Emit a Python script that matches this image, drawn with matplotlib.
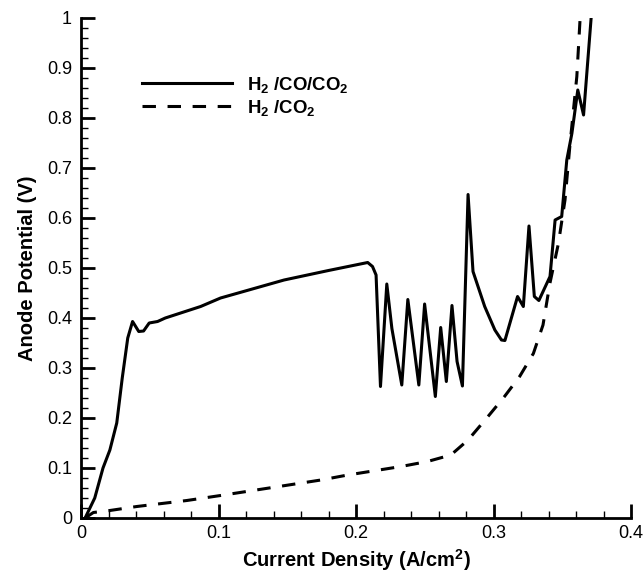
import matplotlib
matplotlib.use("Agg")
import matplotlib.pyplot as plt

plt.rcParams['font.family'] = ['Liberation Sans', 'DejaVu Sans']
plt.rcParams['mathtext.fontset'] = 'custom'
plt.rcParams['mathtext.default'] = 'regular'

# H2/CO/CO2 feed (solid)
co_x = [0.003, 0.010, 0.016, 0.021, 0.026, 0.030, 0.034, 0.0375, 0.042, 0.0455,
        0.0496, 0.0557, 0.0613, 0.087, 0.1015, 0.1477, 0.18, 0.2085, 0.212, 0.2146,
        0.2178, 0.2224, 0.2261, 0.2333, 0.2377, 0.2457, 0.2499, 0.2577, 0.2616, 0.2657,
        0.2698, 0.2735, 0.2774, 0.2815, 0.2851, 0.2936, 0.301, 0.3058, 0.3083, 0.3175,
        0.3217, 0.3258, 0.3297, 0.333, 0.3411, 0.3448, 0.3496, 0.3533, 0.357, 0.3613,
        0.3655, 0.371]
co_y = [0.0, 0.04, 0.10, 0.136, 0.19, 0.28, 0.36, 0.393, 0.373, 0.374,
        0.39, 0.393, 0.40, 0.423, 0.44, 0.476, 0.495, 0.511, 0.503, 0.486,
        0.263, 0.468, 0.379, 0.266, 0.437, 0.266, 0.428, 0.243, 0.381, 0.273,
        0.425, 0.313, 0.264, 0.647, 0.493, 0.423, 0.376, 0.356, 0.355, 0.443,
        0.423, 0.584, 0.443, 0.435, 0.483, 0.596, 0.603, 0.716, 0.769, 0.856,
        0.806, 1.0]

# H2/CO2 feed (dashed)
h2_x = [0.003, 0.009, 0.021, 0.0406, 0.077, 0.1015, 0.1745, 0.194, 0.2328, 0.252,
        0.269, 0.2815, 0.296, 0.308, 0.319, 0.329, 0.336, 0.341, 0.3472, 0.352,
        0.3557, 0.3606, 0.363]
h2_y = [0.0, 0.011, 0.015, 0.023, 0.035, 0.045, 0.076, 0.086, 0.103, 0.113,
        0.126, 0.156, 0.203, 0.243, 0.283, 0.329, 0.386, 0.469, 0.549, 0.636,
        0.749, 0.883, 1.0]

xticks = [0, 0.1, 0.2, 0.3, 0.4]
xlabels = ['0', '0.1', '0.2', '0.3', '0.4']
yticks = [0, 0.1, 0.2, 0.3, 0.4, 0.5, 0.6, 0.7, 0.8, 0.9, 1.0]
ylabels = ['0', '0.1', '0.2', '0.3', '0.4', '0.5', '0.6', '0.7', '0.8', '0.9', '1']

fig = plt.figure(figsize=(6.43, 5.74), dpi=100)
ax = fig.add_axes([81 / 643, 1 - 518 / 574, (631 - 81) / 643, 500 / 574])

ax.plot(co_x, co_y, color='black', lw=2.2, label=r'H$_2$ /CO/CO$_2$')
ax.plot(h2_x, h2_y, color='black', lw=2.2, linestyle=(0, (4.4, 3.8)),
        label=r'H$_2$ /CO$_2$')

ax.set_xlim(0, 0.4)
ax.set_ylim(0, 1)
ax.set_xticks(xticks)
ax.set_xticklabels(xlabels)
ax.set_yticks(yticks)
ax.set_yticklabels(ylabels)
ax.set_xticks([i * 0.02 for i in range(21)], minor=True)
ax.set_yticks([i * 0.02 for i in range(51)], minor=True)

ax.spines['top'].set_visible(False)
ax.spines['right'].set_visible(False)
for s in ['left', 'bottom']:
    ax.spines[s].set_linewidth(2)
ax.tick_params(which='major', direction='in', length=10, width=2,
               labelsize=13)
ax.tick_params(axis='y', which='major', pad=6.5)
ax.tick_params(axis='x', which='major', pad=5)
ax.tick_params(which='minor', direction='in', length=5, width=1)

ax.set_xlabel(r'Current Density (A/cm$^2$)', fontsize=14.5, fontweight='bold',
              labelpad=3.5)
ax.set_ylabel('Anode Potential (V)', fontsize=14.5, fontweight='bold', labelpad=7)

ax.legend(loc='upper left', bbox_to_anchor=(0.08, 0.92), frameon=False,
          handlelength=4.84, handletextpad=0.8, labelspacing=0.15,
          prop={'weight': 'bold', 'size': 13.4})

fig.savefig('out.png', dpi=100)
